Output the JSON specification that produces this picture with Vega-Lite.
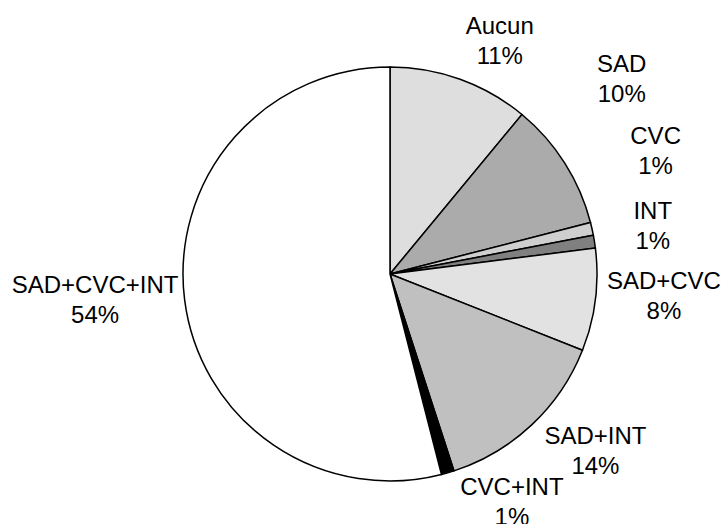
{
  "$schema": "https://vega.github.io/schema/vega-lite/v6.json",
  "width": 672,
  "height": 500,
  "autosize": {"type": "none"},
  "padding": {"left": 54, "top": 24, "right": 0, "bottom": 0},
  "background": "white",
  "view": {"stroke": null},
  "data": {
    "values": [
      {"idx": 1, "name": "Aucun", "pct": 11},
      {"idx": 2, "name": "SAD", "pct": 10},
      {"idx": 3, "name": "CVC", "pct": 1},
      {"idx": 4, "name": "INT", "pct": 1},
      {"idx": 5, "name": "SAD+CVC", "pct": 8},
      {"idx": 6, "name": "SAD+INT", "pct": 14},
      {"idx": 7, "name": "CVC+INT", "pct": 1},
      {"idx": 8, "name": "SAD+CVC+INT", "pct": 54}
    ]
  },
  "encoding": {
    "theta": {"field": "pct", "type": "quantitative", "stack": true},
    "order": {"field": "idx", "type": "quantitative"}
  },
  "layer": [
    {
      "mark": {"type": "arc", "outerRadius": 207, "stroke": "black", "strokeWidth": 1.5},
      "encoding": {
        "fill": {
          "field": "name",
          "type": "nominal",
          "scale": {
            "domain": ["Aucun", "SAD", "CVC", "INT", "SAD+CVC", "SAD+INT", "CVC+INT", "SAD+CVC+INT"],
            "range": ["#dedede", "#ababab", "#cfcfcf", "#808080", "#e2e2e2", "#c0c0c0", "#000000", "#ffffff"]
          },
          "legend": null
        }
      }
    },
    {
      "transform": [{"calculate": "datum.name + '\\n' + datum.pct + '%'", "as": "label"}],
      "mark": {
        "type": "text",
        "radius": 265,
        "font": "Liberation Sans",
        "fontSize": 24,
        "lineHeight": 30,
        "lineBreak": "\n",
        "align": "center",
        "baseline": "middle",
        "color": "black",
        "dx": {"expr": "datum.name === 'Aucun' ? 20 : datum.name === 'SAD' ? 8 : datum.name === 'CVC' ? 7 : datum.name === 'INT' ? 1 : datum.name === 'SAD+CVC' ? 11 : datum.name === 'SAD+INT' ? 24 : datum.name === 'CVC+INT' ? 48 : -32"},
        "dy": {"expr": "datum.name === 'Aucun' ? 2 : datum.name === 'SAD' ? -67 : datum.name === 'CVC' ? -79 : datum.name === 'INT' ? -21 : datum.name === 'SAD+CVC' ? -25 : datum.name === 'SAD+INT' ? -30 : datum.name === 'CVC+INT' ? -40 : -21"}
      },
      "encoding": {"text": {"field": "label", "type": "nominal"}}
    }
  ]
}
